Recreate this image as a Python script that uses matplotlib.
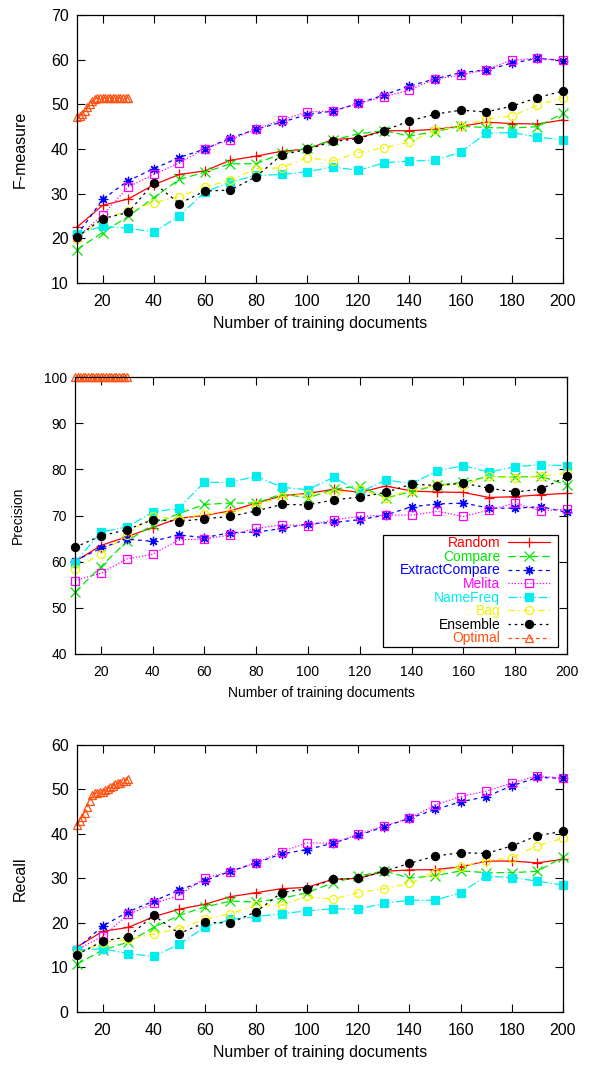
import matplotlib
matplotlib.use("Agg")
import matplotlib.pyplot as plt
from matplotlib.patches import Rectangle

plt.rcParams['font.family'] = ['Liberation Sans', 'DejaVu Sans']

# training set sizes
x = [10, 20, 30, 40, 50, 60, 70, 80, 90, 100,
     110, 120, 130, 140, 150, 160, 170, 180, 190, 200]
x_opt = [10, 11, 12, 13, 14, 15, 16, 17, 18, 19, 20,
         21, 22, 23, 24, 25, 26, 27, 28, 29, 30]

# F-measure
random_f = [22.5, 27.4, 28.8, 32.0, 34.3, 35.1, 37.5, 38.4, 39.5, 40.0, 42.1, 42.5, 44.1, 44.1, 44.4, 45.1, 46.0, 45.7, 45.6, 46.5]
compare_f = [17.5, 21.3, 24.9, 29.1, 33.2, 34.8, 36.7, 36.7, 39.0, 40.2, 42.0, 43.4, 44.1, 42.9, 43.9, 45.1, 44.8, 44.7, 45.0, 48.0]
extract_f = [20.7, 28.7, 32.9, 35.6, 38.1, 40.0, 42.5, 44.4, 46.0, 47.7, 48.5, 50.2, 52.1, 54.1, 55.7, 57.1, 57.7, 59.2, 60.3, 59.8]
melita_f = [20.2, 25.2, 31.5, 34.3, 36.9, 40.1, 42.1, 44.4, 46.5, 48.3, 48.5, 50.2, 51.7, 53.2, 55.7, 56.5, 57.8, 59.9, 60.3, 59.9]
namefreq_f = [21.0, 22.7, 22.3, 21.4, 25.0, 30.4, 32.6, 34.1, 34.3, 34.9, 36.0, 35.2, 36.9, 37.3, 37.5, 39.3, 43.5, 43.7, 42.7, 42.0]
bag_f = [19.9, 24.4, 26.1, 28.0, 29.3, 31.5, 33.0, 35.6, 35.8, 38.1, 37.3, 39.2, 40.3, 41.5, 44.2, 45.1, 46.7, 47.4, 49.8, 51.5]
ensemble_f = [20.3, 24.4, 25.8, 32.4, 27.8, 30.6, 30.8, 33.8, 38.7, 39.9, 41.7, 42.3, 44.1, 46.3, 47.8, 48.7, 48.3, 49.6, 51.5, 53.0]
optimal_f = [47.1, 47.3, 47.8, 48.5, 49.3, 50.0, 50.7, 51.2, 51.4, 51.4, 51.4, 51.4, 51.4, 51.4, 51.4, 51.4, 51.4, 51.4, 51.4, 51.4, 51.4]

# Precision
random_p = [60.0, 63.5, 65.4, 67.4, 69.4, 70.0, 71.0, 72.7, 74.3, 74.8, 75.7, 75.0, 76.4, 75.3, 75.1, 75.0, 73.9, 74.1, 74.5, 74.8]
compare_p = [53.4, 58.9, 64.4, 68.0, 70.4, 72.4, 72.7, 72.7, 74.7, 73.8, 75.7, 76.4, 73.8, 75.2, 76.6, 77.2, 78.5, 78.3, 78.5, 76.6]
extract_p = [60.2, 62.9, 64.9, 64.4, 65.8, 65.2, 66.3, 66.4, 67.2, 68.2, 68.5, 69.1, 70.1, 71.9, 72.5, 72.7, 71.6, 71.6, 71.9, 70.7]
melita_p = [55.9, 57.5, 60.6, 61.6, 64.7, 64.9, 65.8, 67.2, 68.0, 67.8, 69.1, 69.8, 70.1, 70.1, 70.9, 69.8, 71.2, 72.7, 71.0, 71.4]
namefreq_p = [59.8, 66.4, 67.5, 70.7, 71.6, 77.2, 77.2, 78.5, 76.1, 75.6, 78.3, 75.0, 77.7, 76.9, 79.7, 80.8, 79.4, 80.6, 81.0, 80.8]
bag_p = [58.4, 61.7, 65.8, 69.9, 69.1, 70.4, 70.5, 72.3, 74.1, 74.7, 74.8, 75.8, 73.8, 75.6, 76.6, 76.6, 78.5, 78.1, 78.5, 79.2]
ensemble_p = [63.1, 65.6, 66.9, 69.1, 68.7, 69.3, 69.8, 71.0, 72.4, 72.3, 73.4, 74.0, 75.0, 76.8, 76.5, 77.0, 75.9, 75.1, 75.7, 78.5]
optimal_p = [100, 100, 100, 100, 100, 100, 100, 100, 100, 100, 100,
             100, 100, 100, 100, 100, 100, 100, 100, 100, 100]

# Recall
random_r = [14.6, 18.1, 19.0, 21.4, 23.1, 24.2, 25.9, 26.8, 27.7, 28.0, 29.8, 30.0, 31.6, 31.9, 32.0, 32.6, 33.9, 33.9, 33.5, 34.3]
compare_r = [10.7, 13.9, 15.7, 19.0, 21.7, 23.6, 24.9, 24.7, 25.5, 26.8, 29.0, 30.5, 31.7, 30.1, 30.6, 31.7, 31.3, 31.3, 31.6, 34.8]
extract_r = [14.2, 19.3, 22.5, 24.9, 27.4, 29.5, 31.6, 33.5, 35.5, 36.5, 37.9, 39.7, 41.6, 43.5, 45.5, 47.2, 48.4, 50.8, 52.7, 52.5]
melita_r = [14.0, 17.0, 21.9, 24.4, 26.2, 30.1, 31.5, 33.5, 36.0, 38.0, 37.9, 39.9, 41.8, 43.5, 46.5, 48.4, 49.6, 51.4, 53.1, 52.5]
namefreq_r = [13.9, 14.2, 13.1, 12.5, 15.2, 19.1, 20.8, 21.4, 22.1, 22.7, 23.2, 23.1, 24.4, 25.1, 25.1, 26.8, 30.5, 30.2, 29.4, 28.5]
bag_r = [13.1, 15.6, 16.3, 17.5, 18.7, 20.8, 22.1, 24.0, 24.0, 26.0, 25.3, 26.8, 27.7, 28.9, 31.3, 32.6, 34.0, 34.6, 37.4, 39.0]
ensemble_r = [12.9, 15.9, 16.9, 21.7, 17.6, 20.1, 20.0, 22.5, 26.8, 27.7, 29.8, 30.0, 31.6, 33.4, 35.0, 35.8, 35.6, 37.3, 39.6, 40.6]
optimal_r = [42.0, 42.8, 43.8, 44.8, 46.0, 47.5, 48.8, 49.2, 49.3, 49.4, 49.5, 49.8, 50.2, 50.5, 50.8, 51.2, 51.4, 51.5, 51.8, 52.0, 52.3]

names = ["Random", "Compare", "ExtractCompare", "Melita", "NameFreq", "Bag", "Ensemble", "Optimal"]

# (color, linestyle, marker, filled)
styles = [
    ("#ff0000", "-", "+", True),
    ("#00e800", (0, (6, 3)), "x", True),
    ("#0000ff", (0, (3, 3)), (8, 2, 0), True),
    ("#ff00ff", (0, (1, 1.5)), "s", False),
    ("#00eeee", (0, (7, 2, 1, 2)), "s", True),
    ("#f2f200", (0, (5, 3, 1, 3)), "o", False),
    ("#000000", (0, (2, 3)), "o", True),
    ("#ff5010", (0, (3, 2.5)), "^", False),
]


def panel(ax, series, ylabel, ylim, fs, legend=False):
    for i, (name, ys) in enumerate(zip(names, series)):
        col, ls, mk, filled = styles[i]
        xs = x_opt if name == "Optimal" else x
        ms = 5.8
        if mk in ("+", "x", (8, 2, 0)):
            ms = 6.8
        ax.plot(xs, ys, color=col, linestyle=ls, linewidth=0.9,
                marker=mk, markersize=ms, markeredgewidth=0.9,
                markerfacecolor=col if filled else "none",
                markeredgecolor=col, clip_on=False, label=name)
    ax.set_xlim(10, 200)
    ax.set_ylim(*ylim)
    ax.set_xticks(range(20, 201, 20))
    ax.set_yticks(range(ylim[0], ylim[1] + 1, 10))
    ax.tick_params(direction="in", top=True, right=True, length=5.5,
                   width=0.8, labelsize=fs, pad=8)
    ax.tick_params(axis="y", pad=6)
    for s in ax.spines.values():
        s.set_linewidth(0.9)
    ax.set_xlabel("Number of training documents", fontsize=fs, labelpad=5)
    ax.set_ylabel(ylabel, fontsize=fs)
    ax.yaxis.set_label_coords(-0.117, 0.5)
    ax.yaxis.label.set_va("center")
    if legend:
        # gnuplot-style key box: wider on the left than the entries
        ax.add_patch(Rectangle((0.626, 0.0253), 0.3557, 0.4043,
                               transform=ax.transAxes, facecolor="white",
                               edgecolor="black", linewidth=0.9, zorder=4))
        leg = ax.legend(loc="lower right", bbox_to_anchor=(0.9654, 0.031),
                        borderaxespad=0, markerfirst=False, fontsize=10,
                        frameon=False, handlelength=3.0, handletextpad=0.58,
                        labelspacing=-0.03, borderpad=0, numpoints=1)
        leg.set_zorder(5)
        for t, st in zip(leg.get_texts(), styles):
            t.set_color(st[0])


fig = plt.figure(figsize=(5.89, 10.66), dpi=100)
ax1 = fig.add_axes([0.1307, 0.7345, 0.8251, 0.2514])
ax2 = fig.add_axes([0.1273, 0.3865, 0.8353, 0.2598])
ax3 = fig.add_axes([0.1307, 0.0507, 0.8251, 0.2505])

panel(ax1, [random_f, compare_f, extract_f, melita_f, namefreq_f, bag_f, ensemble_f, optimal_f],
      "F-measure", (10, 70), 11.5)
panel(ax2, [random_p, compare_p, extract_p, melita_p, namefreq_p, bag_p, ensemble_p, optimal_p],
      "Precision", (40, 100), 10, legend=True)
panel(ax3, [random_r, compare_r, extract_r, melita_r, namefreq_r, bag_r, ensemble_r, optimal_r],
      "Recall", (0, 60), 11.5)

fig.savefig("out.png", dpi=100)
